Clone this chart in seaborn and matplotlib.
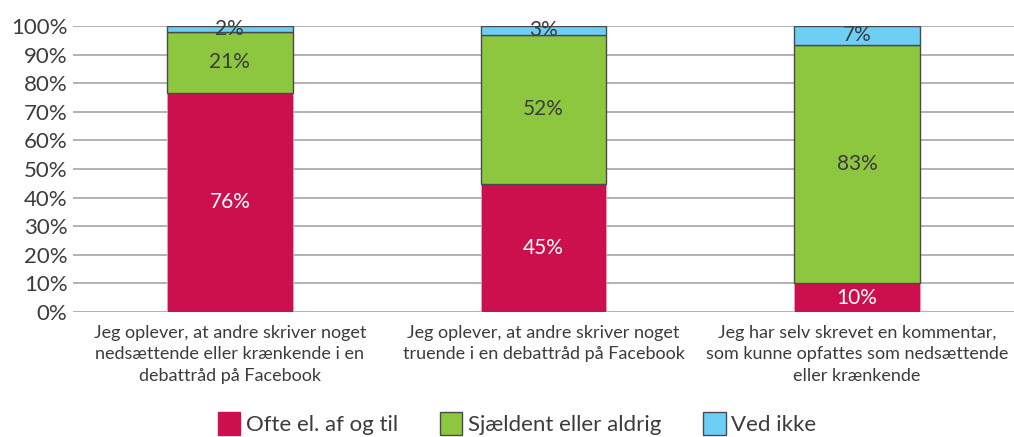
import matplotlib
matplotlib.use("Agg")
import matplotlib.pyplot as plt
import seaborn as sns
import numpy as np
import pandas as pd
from matplotlib.patches import Patch

categories = [
    "Jeg oplever, at andre skriver noget\nnedsættende eller krænkende i en\ndebattråd på Facebook",
    "Jeg oplever, at andre skriver noget\ntruende i en debattråd på Facebook",
    "Jeg har selv skrevet en kommentar,\nsom kunne opfattes som nedsættende\neller krænkende",
]
series_names = ["Ofte el. af og til", "Sjældent eller aldrig", "Ved ikke"]
ofte = [76.6, 44.8, 10.1]
sjaeldent = [21.3, 52.1, 83.3]
ved_ikke = [2.1, 3.1, 6.6]
labels_ofte = ["76%", "45%", "10%"]
labels_sjaeldent = ["21%", "52%", "83%"]
labels_ved_ikke = ["2%", "3%", "7%"]
yticks = [0, 10, 20, 30, 40, 50, 60, 70, 80, 90, 100]

colors = ["#CC0F4D", "#8DC63F", "#6DCFF6"]
edges = ["#E8A0B8", "#4A4A4A", "#4A4A4A"]
text_col = "#3C3C3C"

sns.set_theme(style="white")
plt.rcParams["font.family"] = ["Lato", "DejaVu Sans"]

fig = plt.figure(figsize=(10.14, 4.37), dpi=100)
ax = fig.add_axes([0.072, 0.286, 0.928, 0.6545])

series = [ofte, sjaeldent, ved_ikke]
labels = [labels_ofte, labels_sjaeldent, labels_ved_ikke]
bottom = np.zeros(3)
for i, (vals, labs) in enumerate(zip(series, labels)):
    df = pd.DataFrame({"cat": categories, "val": vals})
    sns.barplot(data=df, x="cat", y="val", color=colors[i], width=0.4,
                bottom=bottom.copy(), edgecolor=edges[i], linewidth=1.0 if i else 0.6,
                saturation=1, ax=ax, zorder=3)
    cont = ax.containers[-1]
    ax.bar_label(cont, labels=labs, label_type="center",
                 color="white" if i == 0 else text_col, fontsize=15)
    bottom = bottom + np.array(vals)

ax.set_ylim(0, 100)
ax.set_yticks(yticks)
ax.set_yticklabels([f"{t}%" for t in yticks], fontsize=16, color=text_col)
ax.set_xlim(-0.5, 2.5)
ax.set_xticks(range(3))
ax.set_xticklabels(categories, fontsize=13, color=text_col, linespacing=1.45,
                   ha="center", multialignment="center")
ax.tick_params(axis="x", pad=9, length=0)
ax.tick_params(axis="y", pad=4, length=0)
ax.set_xlabel("")
ax.set_ylabel("")
ax.grid(axis="y", color="#A6A6A6", linewidth=1.2, zorder=0)
ax.set_axisbelow(True)
for s in ax.spines.values():
    s.set_visible(False)

handles = [Patch(facecolor=colors[0], edgecolor=colors[0]),
           Patch(facecolor=colors[1], edgecolor="#4A4A4A"),
           Patch(facecolor=colors[2], edgecolor="#4A4A4A")]
fig.legend(handles, series_names, loc="center", bbox_to_anchor=(0.51, 0.03),
           ncol=3, frameon=False, fontsize=16, handlelength=1.0, handleheight=1.2,
           handletextpad=0.25, columnspacing=1.9, labelcolor=text_col)

fig.savefig("out.png", dpi=100)
